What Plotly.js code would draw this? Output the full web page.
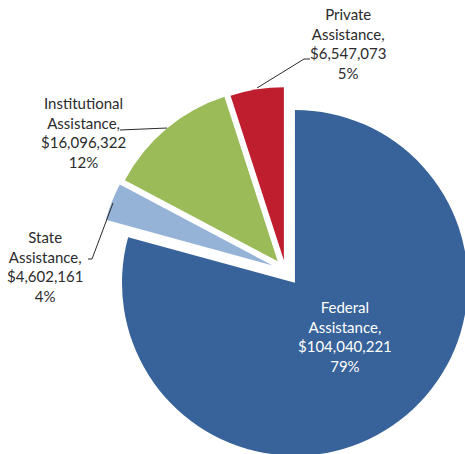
<!DOCTYPE html>
<html>
<head>
<meta charset="utf-8">
<script src="https://cdn.plot.ly/plotly-3.0.1.min.js"></script>
<style>
html, body { margin: 0; padding: 0; overflow: hidden; background: #fff; }
#plot { width: 474px; height: 459px; }
</style>
</head>
<body>
<div id="plot"></div>
<script>
// funding sources, order is clockwise from 12 o'clock
let sources = ['Federal', 'State', 'Institutional', 'Private']
let amounts = [104040221, 4602161, 16096322, 6547073]
let colors = ['#37629a', '#95b3d7', '#9bbb59', '#be1e2d']
let pulls = [0.09, 0.08, 0.07, 0.06]

// plot box in pixels, used to place labels
let L = 97, T = 82, W = 377, H = 377
function px(x) { return (x - L) / W }
function py(y) { return 1 - (y - T) / H }

let total = amounts.reduce((a, b) => a + b, 0)

function labelText(i) {
    let pct = Math.round(amounts[i] / total * 100)
    return sources[i] + '<br>Assistance,<br>$' + amounts[i].toLocaleString('en-US') + '<br>' + pct + '%'
}

let trace = {
    type: 'pie',
    labels: sources,
    values: amounts,
    sort: false,
    direction: 'clockwise',
    rotation: 0,
    pull: pulls,
    marker: { colors: colors, line: { width: 0 } },
    textinfo: 'none',
    hoverinfo: 'skip'
}

// label centres (pixels) for each slice
let labelPos = [[345, 336], [45, 266], [83, 132], [348, 43]]
let labelColor = ['#ffffff', '#2b2b2b', '#2b2b2b', '#2b2b2b']

let annotations = sources.map((s, i) => ({
    xref: 'paper', yref: 'paper',
    x: px(labelPos[i][0]), y: py(labelPos[i][1]),
    xanchor: 'center', yanchor: 'middle',
    text: labelText(i),
    showarrow: false,
    font: { family: 'Lato, sans-serif', size: 15, color: labelColor[i] }
}))

// leader lines from labels to slices
let leaders = [
    [[88, 259], [92, 259], [113, 203]],
    [[120, 130], [167, 128]],
    [[310, 59], [304, 59], [257, 88]]
]
let shapes = leaders.map(pts => ({
    type: 'path',
    xref: 'paper', yref: 'paper',
    path: pts.map((p, j) => (j ? 'L' : 'M') + px(p[0]) + ',' + py(p[1])).join(' '),
    line: { color: '#2b2b2b', width: 1 }
}))

let layout = {
    width: 474,
    height: 459,
    margin: { l: L, r: 0, t: T, b: 0 },
    showlegend: false,
    paper_bgcolor: '#ffffff',
    annotations: annotations,
    shapes: shapes
}

Plotly.newPlot('plot', [trace], layout, { staticPlot: true })
</script>
</body>
</html>
